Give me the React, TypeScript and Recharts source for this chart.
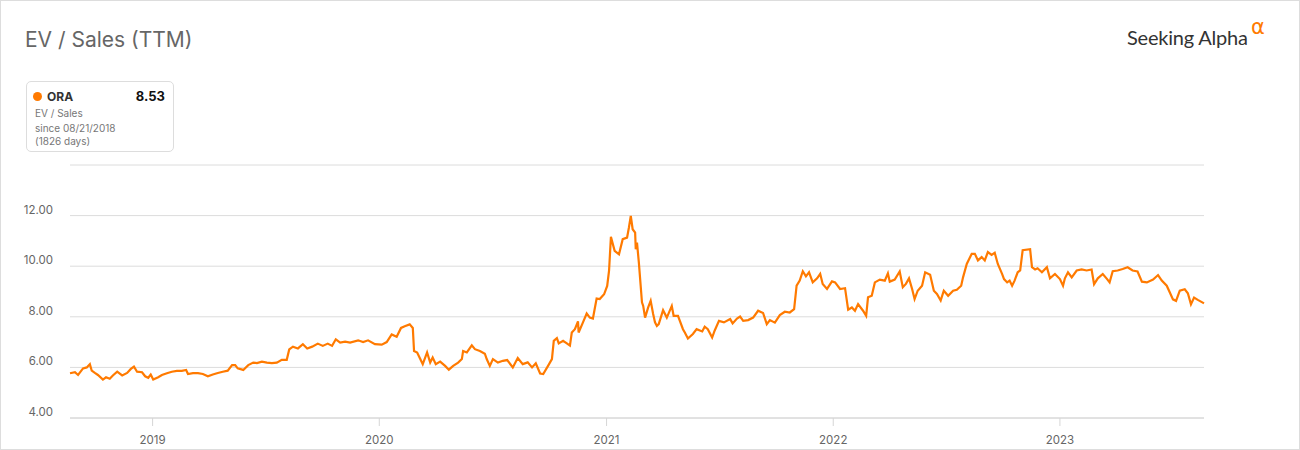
import React from "react";
import { LineChart, Line, XAxis, YAxis, CartesianGrid } from "recharts";

// days since 08/21/2018
const days = [
  0, 8, 13, 21, 27, 32, 35, 40, 45, 53, 58, 64, 69, 76, 84, 92, 98, 103, 108, 116,
  121, 126, 130, 134, 142, 148, 156, 164, 172, 180, 187, 190, 198, 206, 214, 222, 230, 238, 246, 254,
  261, 266, 270, 279, 287, 295, 301, 309, 317, 325, 333, 341, 349, 353, 359, 367, 375, 382, 390, 399,
  407, 415, 422, 428, 435, 443, 451, 464, 472, 480, 491, 502, 510, 518, 526, 533, 539, 547, 552, 554,
  559, 564, 568, 575, 580, 584, 589, 596, 604, 610, 617, 625, 631, 633, 639, 647, 652, 660, 668, 671,
  676, 681, 689, 697, 704, 713, 721, 729, 737, 744, 750, 757, 762, 770, 776, 779, 784, 787, 794, 800,
  805, 808, 813, 818, 819, 826, 832, 837, 842, 848, 853, 860, 865, 868, 871, 877, 884, 890, 897, 900,
  903, 906, 910, 911, 913, 916, 921, 923, 926, 931, 935, 939, 942, 945, 948, 955, 961, 969, 972, 979,
  987, 990, 995, 1003, 1009, 1018, 1022, 1027, 1034, 1038, 1045, 1053, 1063, 1067, 1074, 1079, 1084, 1092, 1100, 1108,
  1116, 1122, 1127, 1135, 1143, 1151, 1159, 1166, 1170, 1175, 1180, 1185, 1190, 1196, 1203, 1208, 1212, 1219, 1227, 1232,
  1240, 1248, 1253, 1259, 1264, 1269, 1277, 1282, 1285, 1291, 1296, 1304, 1312, 1317, 1320, 1328, 1336, 1341, 1346, 1351,
  1356, 1360, 1365, 1372, 1377, 1385, 1391, 1396, 1402, 1407, 1414, 1422, 1428, 1435, 1438, 1444, 1452, 1457, 1462, 1468,
  1473, 1478, 1484, 1489, 1494, 1501, 1504, 1509, 1513, 1517, 1521, 1526, 1530, 1534, 1546, 1549, 1554, 1558, 1565, 1573,
  1578, 1586, 1594, 1599, 1602, 1607, 1613, 1621, 1629, 1637, 1645, 1649, 1655, 1663, 1670, 1674, 1679, 1687, 1695, 1703,
  1711, 1719, 1726, 1734, 1744, 1752, 1758, 1766, 1771, 1776, 1781, 1787, 1795, 1800, 1805, 1810, 1816, 1824, 1826,
];

const evSales = [
  5.77, 5.81, 5.7, 5.96, 6.0, 6.13, 5.87, 5.78, 5.7, 5.52, 5.61, 5.55, 5.68, 5.83, 5.68, 5.78, 5.94, 6.03, 5.83, 5.81,
  5.65, 5.59, 5.72, 5.52, 5.61, 5.7, 5.77, 5.83, 5.86, 5.86, 5.9, 5.74, 5.77, 5.77, 5.74, 5.65, 5.72, 5.78, 5.83, 5.87,
  6.09, 6.09, 5.96, 5.9, 6.09, 6.19, 6.17, 6.23, 6.19, 6.17, 6.19, 6.3, 6.3, 6.71, 6.82, 6.75, 6.92, 6.75, 6.82, 6.94,
  6.85, 6.94, 6.85, 7.11, 6.98, 7.02, 6.98, 7.07, 7.0, 7.07, 6.92, 6.9, 7.0, 7.3, 7.21, 7.56, 7.63, 7.7, 7.56, 6.65,
  6.59, 6.33, 6.13, 6.59, 6.19, 6.39, 6.13, 6.23, 6.06, 5.91, 6.06, 6.19, 6.33, 6.65, 6.59, 6.87, 6.72, 6.65, 6.54, 6.33,
  6.06, 6.33, 6.19, 6.26, 6.29, 6.0, 6.37, 6.13, 6.2, 6.0, 6.16, 5.76, 5.74, 6.07, 6.33, 7.05, 7.16, 6.95, 7.05, 6.95,
  6.86, 7.38, 7.51, 7.82, 7.38, 7.78, 8.13, 7.97, 7.93, 8.72, 8.7, 8.89, 9.22, 9.82, 11.16, 10.61, 10.47, 11.07, 11.13, 11.53,
  11.99, 11.46, 11.33, 10.67, 10.93, 10.14, 8.57, 8.43, 7.97, 8.37, 8.63, 8.11, 7.78, 7.64, 7.71, 8.26, 7.97, 8.43, 8.04, 8.04,
  7.51, 7.38, 7.14, 7.32, 7.51, 7.42, 7.61, 7.51, 7.18, 7.45, 7.84, 7.78, 7.91, 7.74, 7.93, 8.01, 7.84, 7.87, 7.97, 8.24,
  8.15, 7.71, 7.87, 7.77, 8.07, 8.2, 8.17, 8.3, 9.23, 9.43, 9.8, 9.6, 9.76, 9.36, 9.52, 9.7, 9.3, 9.1, 9.4, 9.36,
  9.1, 9.13, 8.28, 8.37, 8.24, 8.5, 8.24, 8.04, 8.77, 8.83, 9.36, 9.47, 9.43, 9.72, 9.39, 9.47, 9.79, 9.17, 9.3, 9.52,
  9.1, 8.7, 9.03, 9.23, 9.76, 9.66, 9.03, 8.9, 8.64, 9.03, 8.83, 9.03, 9.07, 9.23, 9.56, 10.09, 10.49, 10.49, 10.23, 10.36,
  10.23, 10.56, 10.45, 10.53, 10.09, 9.69, 9.49, 9.36, 9.43, 9.23, 9.43, 9.76, 9.83, 10.63, 10.67, 9.96, 9.87, 9.92, 9.76, 9.96,
  9.52, 9.69, 9.49, 9.23, 9.52, 9.76, 9.56, 9.83, 9.87, 9.83, 9.87, 9.29, 9.52, 9.69, 9.49, 9.36, 9.8, 9.83, 9.89, 9.96,
  9.83, 9.79, 9.39, 9.36, 9.47, 9.65, 9.43, 9.23, 8.96, 8.69, 8.63, 9.03, 9.09, 8.93, 8.49, 8.76, 8.67, 8.56, 8.53,
];

const yearTicks = [133, 498, 864, 1229, 1594];
const yearLabels = ["2019", "2020", "2021", "2022", "2023"];
const valueTicks = [4, 6, 8, 10, 12, 14];

const data = days.map((d, i) => ({ day: d, value: evSales[i] }));

const FONT = "Inter, 'Noto Sans', sans-serif";
const ORANGE = "#ff7a00";

const YTick = ({ y, payload }: any) => {
  if (payload.value === 14) return null;
  return (
    <text x={53} y={y - 2} textAnchor="end" fontSize={11.5} fill="#666" fontFamily={FONT}>
      {payload.value.toFixed(2)}
    </text>
  );
};

const XTick = ({ x, y, payload }: any) => {
  const idx = yearTicks.indexOf(payload.value);
  return (
    <text x={x} y={y + 16} textAnchor="middle" fontSize={11.5} fill="#666" fontFamily={FONT}>
      {yearLabels[idx]}
    </text>
  );
};

export default function App() {
  return (
    <div style={{ position: "relative", width: 1300, height: 450, background: "#fff", fontFamily: FONT }}>
      <style>{"body{margin:0}"}</style>
      <LineChart width={1300} height={450} data={data} margin={{ top: 165, right: 96, bottom: 0, left: 0 }}>
        <CartesianGrid vertical={false} stroke="#dcdcdc" />
        <XAxis
          dataKey="day"
          type="number"
          domain={[0, 1826]}
          ticks={yearTicks}
          height={32}
          stroke="#d6d6d6"
          tickSize={8}
          tick={<XTick />}
        />
        <YAxis
          domain={[4, 14]}
          ticks={valueTicks}
          width={70}
          axisLine={false}
          tickLine={false}
          tick={<YTick />}
        />
        <Line
          type="linear"
          dataKey="value"
          stroke={ORANGE}
          strokeWidth={2.2}
          dot={false}
          isAnimationActive={false}
        />
      </LineChart>

      <div style={{ position: "absolute", left: 25, top: 27, fontSize: 21, color: "#666" }}>EV / Sales (TTM)</div>

      <div
        style={{
          position: "absolute",
          left: 26,
          top: 81,
          width: 148,
          height: 71,
          boxSizing: "border-box",
          border: "1px solid #ddd",
          borderRadius: 5,
        }}
      >
        <div style={{ position: "absolute", left: 6, top: 10, width: 9, height: 9, borderRadius: 5, background: ORANGE }} />
        <div style={{ position: "absolute", left: 20, top: 7, fontSize: 12, fontWeight: 700, color: "#333" }}>ORA</div>
        <div style={{ position: "absolute", right: 8, top: 6, fontSize: 13, fontWeight: 700, color: "#111" }}>8.53</div>
        <div style={{ position: "absolute", left: 8, top: 25, fontSize: 10, color: "#777" }}>EV / Sales</div>
        <div style={{ position: "absolute", left: 8, top: 40, fontSize: 10, color: "#777", lineHeight: "13px" }}>
          since 08/21/2018
          <br />
          (1826 days)
        </div>
      </div>

      <div style={{ position: "absolute", left: 1127, top: 25, fontFamily: "Lato, sans-serif", fontSize: 20, color: "#333", whiteSpace: "nowrap", letterSpacing: -0.2 }}>
        Seeking Alpha
      </div>
      <div style={{ position: "absolute", left: 1251, top: 15, fontFamily: "'DejaVu Sans', sans-serif", fontSize: 21, lineHeight: "24px", color: ORANGE }}>α</div>

      <div style={{ position: "absolute", inset: 0, border: "1px solid #ddd", pointerEvents: "none" }} />
    </div>
  );
}
